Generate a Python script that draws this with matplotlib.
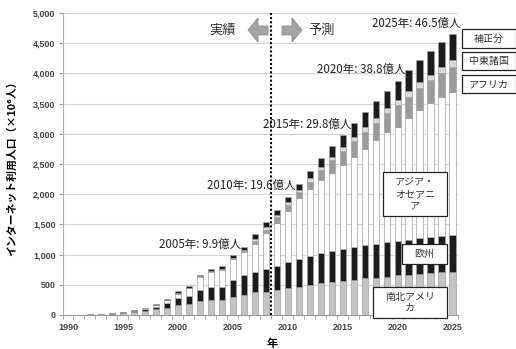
import numpy as np
import matplotlib
matplotlib.use('Agg')
import matplotlib.pyplot as plt
from matplotlib.patches import Polygon, Rectangle

plt.rcParams['font.family'] = ['Noto Sans CJK JP', 'DejaVu Sans']

# 地域別インターネット利用人口（×10^6人）
years = list(range(1990, 2026))
americas = [1.5, 3, 5, 8, 15, 25, 45, 65, 95, 110, 165, 177, 232, 249, 249, 304, 331, 376,
            380, 410, 445, 470, 495, 525, 545, 565, 580, 605, 620, 635, 660, 670, 685, 695, 710, 720]
europe = [0.5, 1, 2, 4, 6, 10, 17, 30, 45, 83, 110, 138, 182, 221, 221, 276, 332, 342,
          380, 405, 435, 460, 485, 500, 515, 530, 545, 555, 560, 575, 570, 580, 585, 595, 595, 610]
asia = [0.3, 0.5, 1, 2, 3, 4, 8, 18, 28, 50, 80, 130, 215, 240, 268, 340, 380, 465,
        590, 710, 840, 1005, 1110, 1210, 1290, 1390, 1490, 1590, 1720, 1820, 1880, 2010, 2125, 2220, 2305, 2360]
africa = [0, 0, 0, 0, 0.2, 0.3, 0.5, 1, 2, 3, 4, 5, 6, 8, 10, 15, 20, 35,
          60, 95, 100, 100, 120, 165, 215, 230, 265, 280, 280, 315, 365, 350, 365, 380, 395, 415]
mideast = [0, 0, 0, 0, 0.2, 0.3, 0.5, 1, 2, 3, 4, 5, 7, 10, 12, 15, 20, 35,
           50, 35, 50, 35, 50, 50, 50, 65, 70, 80, 80, 80, 85, 100, 100, 85, 100, 115]
totals = [2.5, 5, 9, 15, 26, 42, 75, 120, 180, 265, 390, 486, 663, 762, 810, 990, 1127, 1337,
          1540, 1740, 1960, 2170, 2380, 2600, 2800, 2980, 3180, 3360, 3545, 3710, 3880, 4055, 4220, 4370, 4520, 4650]
label_years = [2005, 2010, 2015, 2020, 2025]

parts = [americas, europe, asia, africa, mideast]
correction = list(np.array(totals) - np.sum(np.array(parts), axis=0))
layers = parts + [correction]
colors = ['#c4c4c4', '#1c1c1c', '#ffffff', '#9b9b9b', '#dadada', '#1c1c1c']

W, H = 516, 349
fig = plt.figure(figsize=(W / 100, H / 100), dpi=100)
ax = fig.add_axes([62.5 / W, 34 / H, (458 - 62.5) / W, (315 - 13) / H])

bottom = np.zeros(len(years))
for vals, col in zip(layers, colors):
    ax.bar(years, vals, width=0.56, bottom=bottom, color=col,
           edgecolor='#a0a0a0', linewidth=0.5, zorder=3)
    bottom += np.array(vals)

ax.set_xlim(1989.5, 2025.5)
ax.set_ylim(0, 5000)
ax.set_yticks(range(0, 5001, 500))
ax.set_yticklabels([f'{v:,}' for v in range(0, 5001, 500)])
ax.set_xticks(range(1990, 2026, 5))
ax.set_xticks(np.arange(1989.5, 2026, 1), minor=True)
ax.tick_params(axis='x', which='major', length=0, pad=6)
ax.tick_params(axis='x', which='minor', length=3, color='#999999')
ax.tick_params(axis='y', length=3, color='#999999', pad=2)
for lab in ax.get_xticklabels() + ax.get_yticklabels():
    lab.set_fontfamily('Liberation Sans')
    lab.set_fontsize(6.5)
    lab.set_fontweight('bold')
    lab.set_color('#444444')

ax.grid(axis='y', color='#d4d4d4', linewidth=0.8, zorder=0)
for s in ['top', 'right']:
    ax.spines[s].set_visible(False)
ax.spines['left'].set_color('#b0b0b0')
ax.spines['bottom'].set_color('#999999')

# 実績/予測の境界
ax.axvline(2008.5, color='black', linestyle=(0, (1, 1)), linewidth=1.5, zorder=4)

for y in label_years:
    t = totals[years.index(y)]
    ax.annotate(f'{y}年: {t / 100:.1f}億人', xy=(y, t), xytext=(6, 8),
                textcoords='offset points', ha='right', va='center',
                fontsize=8.3, color='#222222', zorder=5)


def fx(px):
    return px / W


def fy(py):
    return 1 - py / H


# 矢印
left_arrow = [(248, 30), (258, 18), (258, 26), (268, 26), (268, 35), (258, 35), (258, 42)]
right_arrow = [(302, 30), (292, 18), (292, 26), (282, 26), (282, 35), (292, 35), (292, 42)]
for pts in [left_arrow, right_arrow]:
    fig.patches.append(Polygon([(fx(a), fy(b)) for a, b in pts], closed=True,
                               transform=fig.transFigure, facecolor='#a3a3a3',
                               edgecolor='#8c8c8c', linewidth=0.6))
fig.text(fx(223), fy(30), '実績', ha='center', va='center', fontsize=9.5, color='#333333')
fig.text(fx(322), fy(30), '予測', ha='center', va='center', fontsize=9.5, color='#333333')

# 凡例ボックス
boxes = [
    ('補正分', 462, 29, 516, 48),
    ('中東諸国', 462, 52, 516, 70),
    ('アフリカ', 462, 75, 516, 93),
    ('アジア・\nオセアニ\nア', 383, 172, 447, 216),
    ('欧州', 402, 244, 447, 264),
    ('南北アメリ\nカ', 373, 287, 447, 318),
]
for txt, x0, y0, x1, y1 in boxes:
    fig.patches.append(Rectangle((fx(x0), fy(y1)), fx(x1) - fx(x0), fy(y0) - fy(y1),
                                 transform=fig.transFigure, facecolor='white',
                                 edgecolor='#222222', linewidth=0.9, zorder=6))
    fig.text(fx((x0 + x1) / 2), fy((y0 + y1) / 2), txt, ha='center', va='center',
             fontsize=7.2, color='#333333', linespacing=1.15, zorder=7)

fig.text(fx(12), fy(166), 'インターネット利用人口（×10⁶人）', rotation=90,
         ha='center', va='center', fontsize=7.8, fontweight='bold')
fig.text(fx(272), fy(343), '年', ha='center', va='center', fontsize=8, fontweight='bold')

fig.savefig('out.png', dpi=100)
